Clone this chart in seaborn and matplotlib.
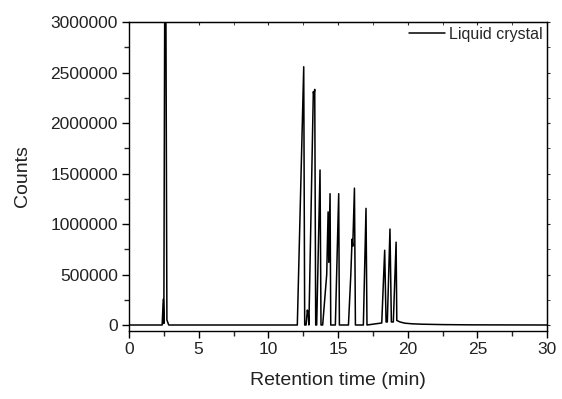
import numpy as np
import pandas as pd
import matplotlib
matplotlib.use("Agg")
import matplotlib.pyplot as plt
from matplotlib.ticker import MultipleLocator, ScalarFormatter
import seaborn as sns

# Chromatogram trace vertices
time_min = [0.0, 2.38, 2.46, 2.50, 2.57, 2.64, 2.72, 2.85,
            12.08, 12.54, 12.61, 12.71, 12.80, 12.87, 12.91,
            13.23, 13.27, 13.33, 13.40,
            13.47, 13.71, 13.78,
            13.90, 14.19, 14.29, 14.34, 14.43, 14.48,
            14.81, 15.05, 15.10,
            15.75, 15.92, 16.01, 16.06, 16.18, 16.25,
            16.82, 17.01, 17.08,
            18.14, 18.35, 18.45,
            18.54, 18.73, 18.83,
            18.97, 19.17, 19.22,
            19.45, 19.8, 20.3, 21.0, 22.5, 24.5, 30.0]
counts = [0, 0, 255000, 15000, 3500000, 3500000, 50000, 0,
          0, 2557000, 0, 0, 148000, 100000, 0,
          2310000, 2280000, 2333000, 0,
          0, 1535000, 0,
          0, 500000, 1120000, 620000, 1300000, 0,
          0, 1300000, 0,
          0, 500000, 850000, 780000, 1355000, 0,
          0, 1155000, 0,
          20000, 740000, 30000,
          30000, 950000, 30000,
          30000, 820000, 45000,
          30000, 18000, 12000, 8000, 4000, 1500, 0]

series_label = "Liquid crystal"
x_ticks = [0, 5, 10, 15, 20, 25, 30]
y_ticks = [0, 500000, 1000000, 1500000, 2000000, 2500000, 3000000]

df = pd.DataFrame({"time": time_min, "counts": counts})

sns.set_style("ticks")
plt.rcParams["font.family"] = ["Liberation Sans", "DejaVu Sans"]

fig = plt.figure(figsize=(5.62, 3.99), dpi=100)
ax = fig.add_axes([129 / 562, 1 - 331 / 399, (547 - 129) / 562, (331 - 22) / 399])

sns.lineplot(data=df, x="time", y="counts", estimator=None, sort=False,
             color="black", linewidth=1.1, label=series_label, ax=ax)

ax.set_xlim(0, 30)
ax.set_ylim(-59400, 3000000)
ax.set_xticks(x_ticks)
ax.set_yticks(y_ticks)
ax.xaxis.set_minor_locator(MultipleLocator(2.5))
ax.yaxis.set_minor_locator(MultipleLocator(250000))
fmt = ScalarFormatter(useOffset=False)
fmt.set_scientific(False)
ax.yaxis.set_major_formatter(fmt)

ax.tick_params(axis="both", which="major", direction="out", length=5, width=1,
               labelsize=12.5, colors="black", labelcolor="#222222", pad=3)
ax.tick_params(axis="both", which="minor", direction="out", length=3.5, width=1)
for s in ax.spines.values():
    s.set_visible(True)
    s.set_linewidth(1.0)
    s.set_color("black")

# top and right small ticks
sx = ax.secondary_xaxis("top")
sx.set_xticks(x_ticks)
sx.xaxis.set_minor_locator(MultipleLocator(2.5))
sx.tick_params(which="both", direction="in", length=2.5, labeltop=False)
sy = ax.secondary_yaxis("right")
sy.set_yticks(y_ticks)
sy.yaxis.set_minor_locator(MultipleLocator(250000))
sy.tick_params(which="both", direction="out", length=2.5, labelright=False)

ax.set_xlabel("Retention time (min)", fontsize=14, labelpad=11, color="#222222")
ax.set_ylabel("Counts", fontsize=14, labelpad=14, color="#222222")

leg = ax.legend(loc="upper right", frameon=False, fontsize=11.5,
                handlelength=2.3, handletextpad=0.2, borderaxespad=0.1,
                borderpad=0.2)

fig.savefig("out.png", dpi=100)
